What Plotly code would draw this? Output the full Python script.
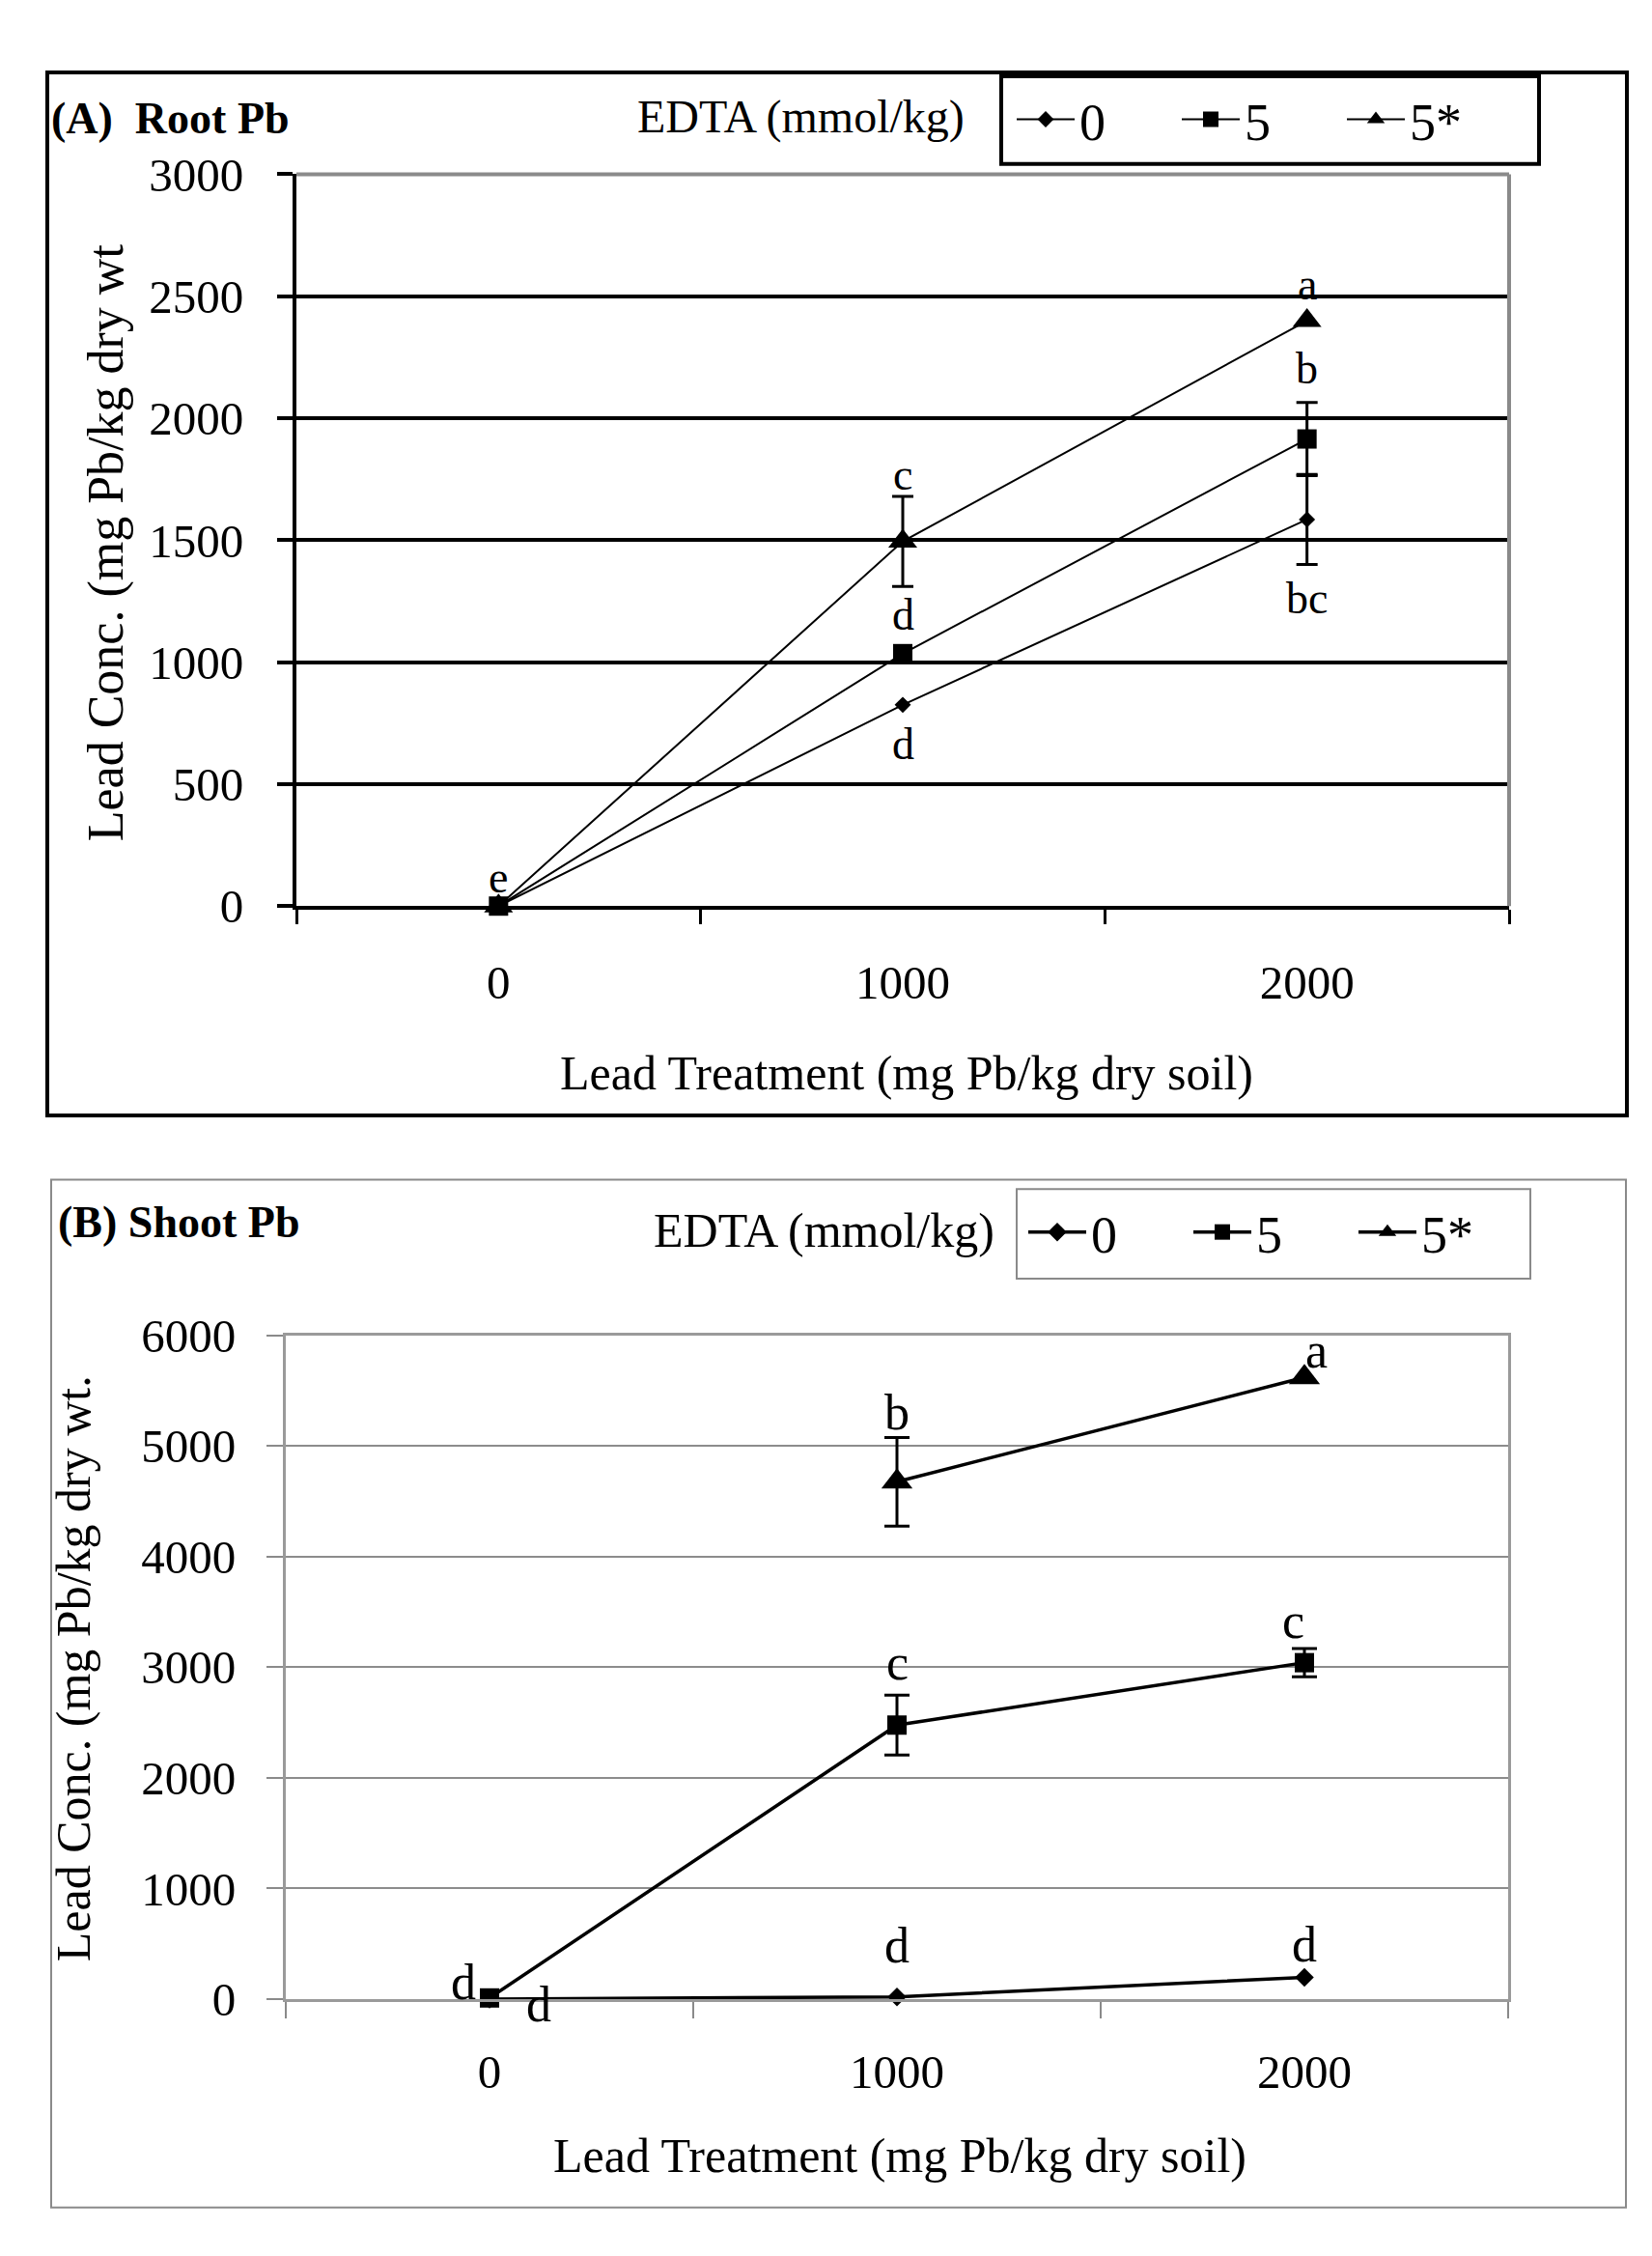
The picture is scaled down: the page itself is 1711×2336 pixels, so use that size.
import plotly.graph_objects as go

# ---------------- data ----------------
treatment = ["0", "1000", "2000"]          # Lead treatment (mg Pb/kg dry soil)
edta_levels = ["0", "5", "5*"]              # EDTA (mmol/kg)

# (A) Root Pb  (mg Pb/kg dry wt)
root_0 = [0, 825, 1585]
root_0_err = [0, 0, 185]
root_5 = [0, 1035, 1915]
root_5_err = [0, 0, 150]
root_5s = [0, 1495, 2400]
root_5s_err = [0, 185, 0]

# (B) Shoot Pb  (mg Pb/kg dry wt)
shoot_0 = [0, 20, 196]
shoot_0_err = [0, 0, 0]
shoot_5 = [10, 2476, 3040]
shoot_5_err = [0, 270, 128]
shoot_5s = [None, 4675, 5618]
shoot_5s_err = [0, 400, 0]

# significance letters
letters_A_x = ["2000", "2000", "1000", "1000", "1000", "2000", "0"]
letters_A_y = [2549, 2205, 1769, 1193, 663, 1260, 116]
letters_A_t = ["a", "b", "c", "d", "d", "bc", "e"]

letters_B_x = ["2000", "1000", "1000", "2000", "1000", "2000", "0", "0"]
letters_B_y = [5860, 5300, 3040, 3420, 480, 490, 150, -45]
letters_B_t = ["a", "b", "c", "c", "d", "d", "d", "d"]
letters_B_shift = [12, 0, 0, -12, 0, 0, -27, 51]

# ---------------- styling ----------------
FONT = "Liberation Serif"
W, H = 1711, 2336
B_TOP, B_BOT = 1380, 2084
B_PX_PER_UNIT = (B_BOT - B_TOP) / 6000.0


def px_x(v):
    return v / W


def px_y(v):
    return 1 - v / H


fig = go.Figure()

series_A = [
    (root_0, root_0_err, "diamond", 13),
    (root_5, root_5_err, "square", 20),
    (root_5s, root_5s_err, "triangle-up", 26),
]
series_B = [
    (shoot_0, shoot_0_err, "diamond", 15),
    (shoot_5, shoot_5_err, "square", 20),
    (shoot_5s, shoot_5s_err, "triangle-up", 28),
]

for name, (vals, errs, sym, ms) in zip(edta_levels, series_A):
    fig.add_trace(go.Scatter(
        x=treatment, y=vals, name=name, mode="lines+markers",
        line=dict(color="black", width=2),
        marker=dict(symbol=sym, size=ms, color="black"),
        xaxis="x", yaxis="y", legend="legend", cliponaxis=False,
    ))
    ex = [t for t, e in zip(treatment, errs) if e > 0]
    ey = [v for v, e in zip(vals, errs) if e > 0]
    ee = [e for e in errs if e > 0]
    if ex:
        fig.add_trace(go.Scatter(
            x=ex, y=ey, mode="markers", showlegend=False,
            marker=dict(size=1, color="rgba(0,0,0,0)"),
            error_y=dict(type="data", array=ee, color="black", thickness=3, width=11),
            xaxis="x", yaxis="y",
        ))

for name, (vals, errs, sym, ms) in zip(edta_levels, series_B):
    fig.add_trace(go.Scatter(
        x=treatment, y=vals, name=name, mode="lines+markers",
        line=dict(color="black", width=3.5),
        marker=dict(symbol=sym, size=ms, color="black"),
        xaxis="x2", yaxis="y2", legend="legend2", cliponaxis=False,
        connectgaps=False,
    ))
    ex = [t for t, e in zip(treatment, errs) if e > 0]
    ey = [v for v, e in zip(vals, errs) if e > 0]
    ee = [e for e in errs if e > 0]
    if ex:
        fig.add_trace(go.Scatter(
            x=ex, y=ey, mode="markers", showlegend=False,
            marker=dict(size=1, color="rgba(0,0,0,0)"),
            error_y=dict(type="data", array=ee, color="black", thickness=3, width=13),
            xaxis="x2", yaxis="y2",
        ))

tickfont = dict(family=FONT, size=49, color="black")
legfont = dict(family=FONT, size=54, color="black")

fig.update_layout(
    width=W, height=H,
    margin=dict(l=0, r=0, t=0, b=0),
    paper_bgcolor="white", plot_bgcolor="white",
    font=dict(family=FONT, color="black"),
    xaxis=dict(
        domain=[px_x(299), px_x(1555)], anchor="y", type="category",
        categoryorder="array", categoryarray=treatment, range=[-0.5, 2.5],
        tickson="boundaries", ticks="outside", ticklen=15, tickwidth=3, tickcolor="black",
        showline=True, linecolor="black", linewidth=4, showgrid=False, zeroline=False,
        tickfont=tickfont, ticklabelstandoff=33,
    ),
    yaxis=dict(
        domain=[px_y(925), px_y(149)], anchor="x", range=[0, 3000], dtick=500, tick0=0,
        showgrid=True, gridcolor="black", gridwidth=3.5, zeroline=False,
        showline=True, linecolor="black", linewidth=4,
        ticks="outside", ticklen=16, tickwidth=3.5, tickcolor="black",
        tickfont=tickfont, ticklabelstandoff=25,
    ),
    xaxis2=dict(
        domain=[px_x(288), px_x(1554)], anchor="y2", type="category",
        categoryorder="array", categoryarray=treatment, range=[-0.5, 2.5],
        tickson="boundaries", ticks="outside", ticklen=17, tickwidth=2, tickcolor="#8a8a8a",
        showline=True, mirror=True, linecolor="#9a9a9a", linewidth=3, showgrid=False,
        zeroline=False, tickfont=tickfont, ticklabelstandoff=30,
    ),
    yaxis2=dict(
        domain=[px_y(B_BOT), px_y(B_TOP)], anchor="x2", range=[0, 6000], dtick=1000, tick0=0,
        showgrid=True, gridcolor="#8c8c8c", gridwidth=1.5, zeroline=False,
        showline=True, mirror=True, linecolor="#9a9a9a", linewidth=3,
        ticks="outside", ticklen=17, tickwidth=2, tickcolor="#8a8a8a",
        tickfont=tickfont, ticklabelstandoff=22,
    ),
    legend=dict(
        orientation="h", x=px_x(1040), y=px_y(91), xanchor="left", yanchor="middle",
        font=legfont, bgcolor="rgba(0,0,0,0)",
        borderwidth=0, itemwidth=60, entrywidth=96, tracegroupgap=0,
    ),
    legend2=dict(
        orientation="h", x=px_x(1052), y=px_y(1271), xanchor="left", yanchor="middle",
        font=legfont, bgcolor="rgba(0,0,0,0)",
        borderwidth=0, itemwidth=60, entrywidth=96, tracegroupgap=0,
    ),
)

shapes = [
    # panel A frame and legend box
    dict(type="rect", xref="paper", yref="paper", x0=px_x(41), x1=px_x(1677),
         y0=px_y(1147), y1=px_y(41), line=dict(color="black", width=4)),
    dict(type="rect", xref="paper", yref="paper", x0=px_x(1029), x1=px_x(1586),
         y0=px_y(138), y1=px_y(45), line=dict(color="black", width=4)),
    # panel A plot-area top/right border (grey)
    dict(type="line", xref="x domain", yref="y domain", x0=0, x1=1, y0=1, y1=1,
         line=dict(color="#8a8a8a", width=4)),
    dict(type="line", xref="x domain", yref="y domain", x0=1, x1=1, y0=0, y1=1,
         line=dict(color="#8a8a8a", width=4)),
    # panel B frame and legend box
    dict(type="rect", xref="paper", yref="paper", x0=px_x(45), x1=px_x(1676),
         y0=px_y(2305), y1=px_y(1215), line=dict(color="#8a8a8a", width=2)),
    dict(type="rect", xref="paper", yref="paper", x0=px_x(1045), x1=px_x(1577),
         y0=px_y(1320), y1=px_y(1225), line=dict(color="#8a8a8a", width=2)),
]

ann = [
    dict(text="<b>(A)  Root Pb</b>", xref="paper", yref="paper", x=px_x(43), y=px_y(90),
         xanchor="left", yanchor="middle", showarrow=False,
         font=dict(family=FONT, size=46, color="black")),
    dict(text="EDTA (mmol/kg)", xref="paper", yref="paper", x=px_x(821), y=px_y(88),
         xanchor="center", yanchor="middle", showarrow=False,
         font=dict(family=FONT, size=48, color="black")),
    dict(text="Lead Conc. (mg Pb/kg dry wt", xref="paper", yref="paper", x=px_x(102),
         y=px_y(540), xanchor="center", yanchor="middle", textangle=-90, showarrow=False,
         font=dict(family=FONT, size=52, color="black")),
    dict(text="Lead Treatment (mg Pb/kg dry soil)", xref="paper", yref="paper",
         x=px_x(931), y=px_y(1102), xanchor="center", yanchor="middle", showarrow=False,
         font=dict(family=FONT, size=50, color="black")),
    dict(text="<b>(B)</b> <b>Shoot Pb</b>", xref="paper", yref="paper", x=px_x(50), y=px_y(1260),
         xanchor="left", yanchor="middle", showarrow=False,
         font=dict(family=FONT, size=46, color="black")),
    dict(text="EDTA (mmol/kg)", xref="paper", yref="paper", x=px_x(845), y=px_y(1269),
         xanchor="center", yanchor="middle", showarrow=False,
         font=dict(family=FONT, size=50, color="black")),
    dict(text="Lead Conc. (mg Pb/kg dry wt.", xref="paper", yref="paper", x=px_x(68),
         y=px_y(1734), xanchor="center", yanchor="middle", textangle=-90, showarrow=False,
         font=dict(family=FONT, size=50, color="black")),
    dict(text="Lead Treatment (mg Pb/kg dry soil)", xref="paper", yref="paper",
         x=px_x(924), y=px_y(2250), xanchor="center", yanchor="middle", showarrow=False,
         font=dict(family=FONT, size=50, color="black")),
]

for xv, yv, t in zip(letters_A_x, letters_A_y, letters_A_t):
    ann.append(dict(text=t, x=treatment.index(xv), y=yv, xref="x", yref="y",
                    showarrow=False, xanchor="center", yanchor="middle",
                    font=dict(family=FONT, size=46, color="black")))
for xv, yv, t, s in zip(letters_B_x, letters_B_y, letters_B_t, letters_B_shift):
    yin = max(yv, 0)  # keep the anchor inside the axis range, shift the rest in px
    ann.append(dict(text=t, x=treatment.index(xv), y=yin, xref="x2", yref="y2",
                    showarrow=False, xanchor="center", yanchor="middle", xshift=s,
                    yshift=(yv - yin) * B_PX_PER_UNIT,
                    font=dict(family=FONT, size=52, color="black")))

fig.update_layout(shapes=shapes, annotations=ann)

fig.write_html("out.html")
